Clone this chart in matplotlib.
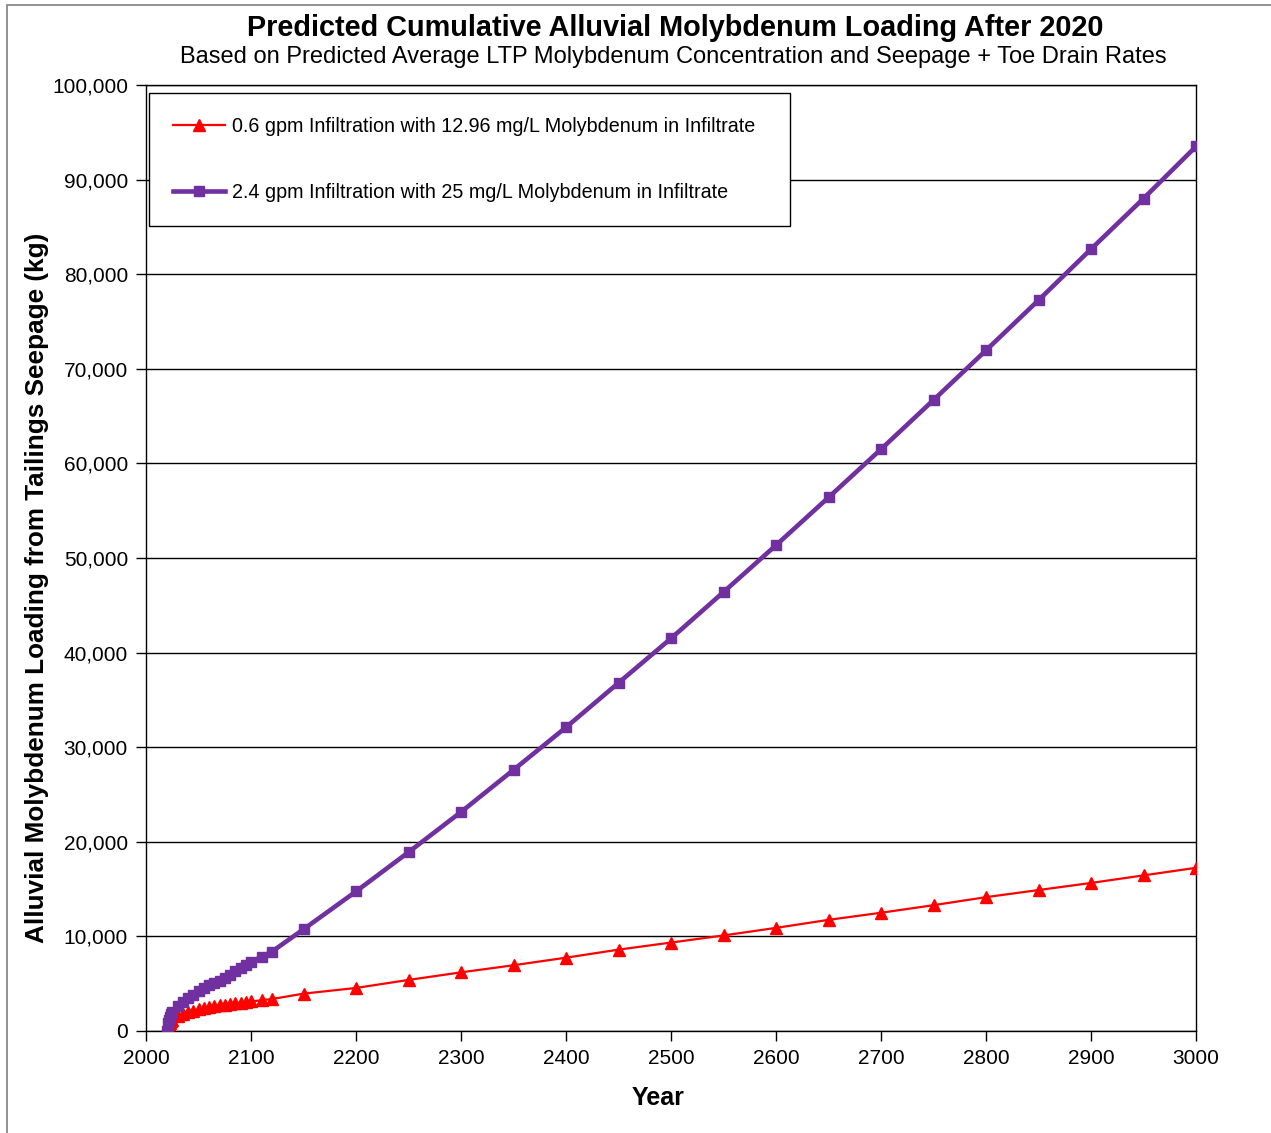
#!/usr/bin/env python3

import matplotlib
matplotlib.use('Agg')
import matplotlib.pyplot as plt
from matplotlib.patches import Rectangle
from matplotlib.ticker import FuncFormatter, MultipleLocator

# Data
years = [2020, 2021, 2022, 2023, 2024, 2025, 2030, 2035, 2040, 2045, 2050,
         2055, 2060, 2065, 2070, 2075, 2080, 2085, 2090, 2095, 2100, 2110,
         2120, 2150, 2200, 2250, 2300, 2350, 2400, 2450, 2500, 2550, 2600,
         2650, 2700, 2750, 2800, 2850, 2900, 2950, 3000]

low_rate = [0, 450, 700, 880, 1020, 1150, 1550, 1800, 2000, 2150, 2300,
            2420, 2530, 2620, 2700, 2780, 2850, 2920, 2990, 3050, 3120, 3250,
            3380, 3950, 4550, 5400, 6200, 6950, 7750, 8600, 9350, 10100,
            10900, 11750, 12500, 13300, 14150, 14900, 15650, 16450, 17250]

high_rate = [0, 800, 1200, 1500, 1780, 2000, 2600, 3050, 3500, 3850, 4200,
             4550, 4850, 5100, 5300, 5550, 5950, 6300, 6650, 6950, 7300, 7850,
             8400, 10750, 14750, 18900, 23150, 27600, 32100, 36800, 41500,
             46400, 51350, 56400, 61500, 66700, 71950, 77250, 82650, 88000,
             93500]

low_label = '0.6 gpm Infiltration with 12.96 mg/L Molybdenum in Infiltrate'
high_label = '2.4 gpm Infiltration with 25 mg/L Molybdenum in Infiltrate'

plt.rcParams['font.family'] = ['Liberation Sans', 'DejaVu Sans']

fig = plt.figure(figsize=(12.71, 11.33), dpi=100)
ax = fig.add_axes([146 / 1271, 1 - 1031 / 1133, 1050 / 1271, 946 / 1133])

# outer chart border
fig.patches.append(Rectangle((7 / 1271, -0.05), 1.2, 1 - 5 / 1133 + 0.05,
                             transform=fig.transFigure, fill=False,
                             edgecolor='#808080', linewidth=1.2))

# Plots
ax.plot(years, low_rate, color='#FF0000', linewidth=1.6, marker='^',
        markersize=8.5, label=low_label, zorder=3)
ax.plot(years, high_rate, color='#7030A0', linewidth=3.3, marker='s',
        markersize=7, label=high_label, zorder=4)

# Limits and ticks
ax.set_xlim(2000, 3000)
ax.set_ylim(0, 100000)
ax.xaxis.set_major_locator(MultipleLocator(100))
ax.yaxis.set_major_locator(MultipleLocator(10000))
ax.yaxis.set_major_formatter(FuncFormatter(lambda v, p: f'{int(v):,}'))
ax.tick_params(axis='both', labelsize=15, direction='out', length=7,
               width=1, color='black', pad=6)
ax.yaxis.grid(True, color='black', linewidth=1)
ax.set_axisbelow(True)
for s in ax.spines.values():
    s.set_color('black')
    s.set_linewidth(1)

# Titles and labels
fig.text(0.531, 1 - 28 / 1133, 'Predicted Cumulative Alluvial Molybdenum Loading After 2020',
         ha='center', va='center', fontsize=20.8, fontweight='bold')
fig.text(0.530, 1 - 57 / 1133,
         'Based on Predicted Average LTP Molybdenum Concentration and Seepage + Toe Drain Rates',
         ha='center', va='center', fontsize=17)
fig.text(658 / 1271, 1 - 1098 / 1133, 'Year', ha='center', va='center',
         fontsize=18, fontweight='bold')
fig.text(37 / 1271, 1 - 588 / 1133,
         'Alluvial Molybdenum Loading from Tailings Seepage (kg)',
         ha='center', va='center', rotation=90, fontsize=18.8, fontweight='bold')

# Legend
leg = ax.legend(loc='upper left', bbox_to_anchor=(0.003, 0.851, 0.61, 0.1405),
                mode='expand', fontsize=14.2, frameon=True, fancybox=False,
                framealpha=1, edgecolor='black', handlelength=2.65,
                handletextpad=0.35, labelspacing=2.4, borderpad=1.2,
                borderaxespad=0)
leg.get_frame().set_linewidth(1)

fig.savefig('out.png', dpi=100)
